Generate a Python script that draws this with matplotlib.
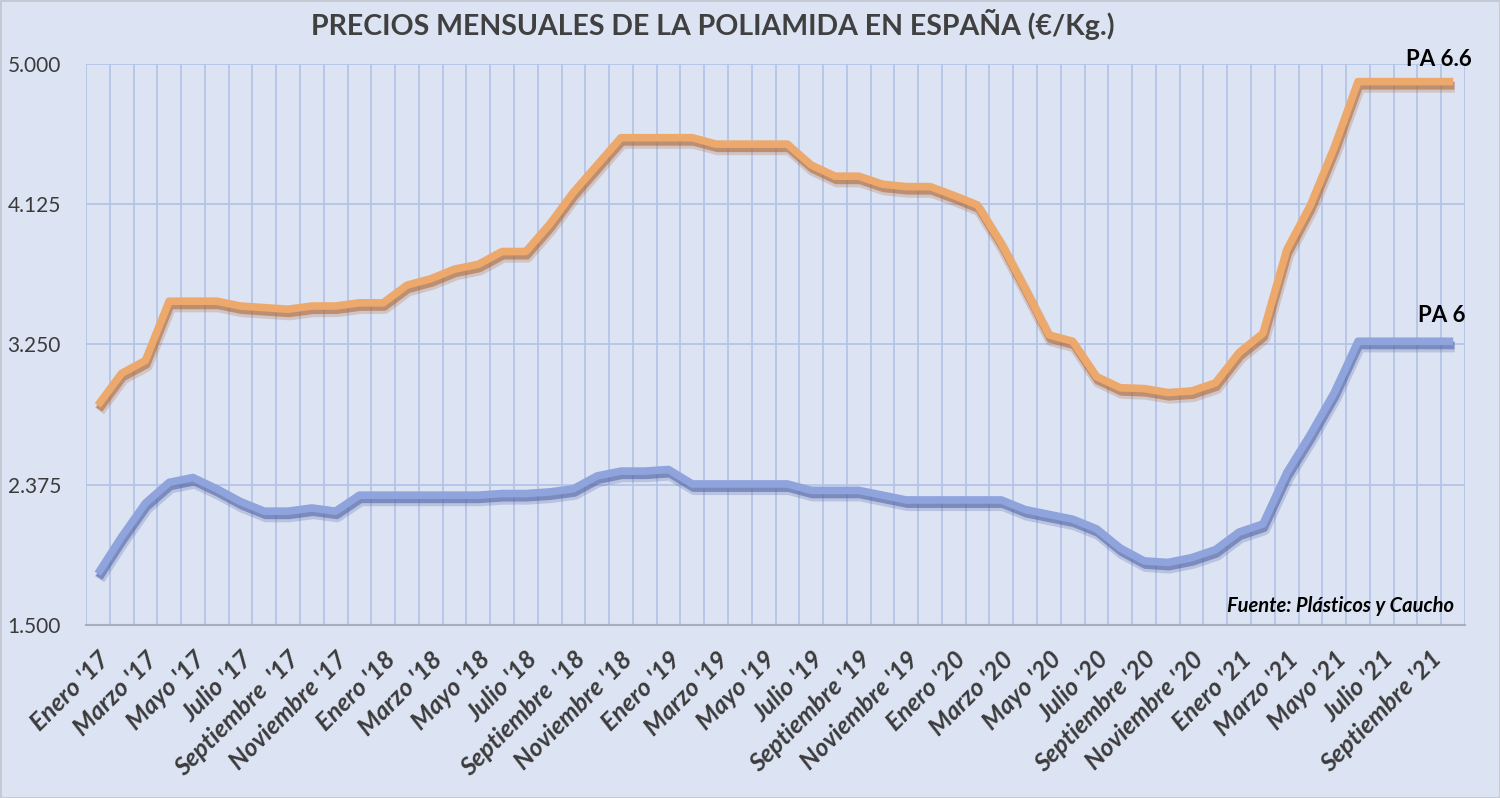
import matplotlib
matplotlib.use("Agg")
import matplotlib.pyplot as plt
import matplotlib.patheffects as pe
from matplotlib.transforms import ScaledTranslation

# precios mensuales Enero '17 .. Octubre '21 (58 meses)
pa66 = [2.87, 3.07, 3.15, 3.52, 3.52, 3.52, 3.49, 3.48, 3.47, 3.49,
        3.49, 3.51, 3.51, 3.62, 3.66, 3.72, 3.75, 3.83, 3.83, 4.00,
        4.20, 4.37, 4.54, 4.54, 4.54, 4.54, 4.50, 4.50, 4.50, 4.50,
        4.37, 4.30, 4.30, 4.25, 4.235, 4.235, 4.18, 4.12, 3.88, 3.60,
        3.31, 3.27, 3.05, 2.98, 2.975, 2.95, 2.96, 3.01, 3.20, 3.32,
        3.84, 4.12, 4.48, 4.89, 4.89, 4.89, 4.89, 4.89]
pa6 = [1.82, 2.05, 2.26, 2.39, 2.42, 2.35, 2.27, 2.21, 2.21, 2.23,
       2.21, 2.31, 2.31, 2.31, 2.31, 2.31, 2.31, 2.32, 2.32, 2.33,
       2.35, 2.43, 2.46, 2.46, 2.47, 2.38, 2.38, 2.38, 2.38, 2.38,
       2.34, 2.34, 2.34, 2.31, 2.28, 2.28, 2.28, 2.28, 2.28, 2.22,
       2.19, 2.16, 2.10, 1.98, 1.90, 1.89, 1.92, 1.97, 2.08, 2.13,
       2.45, 2.69, 2.95, 3.27, 3.27, 3.27, 3.27, 3.27]

tick_labels = ["Enero '17", "Marzo '17", "Mayo '17", "Julio '17", "Septiembre  '17", "Noviembre '17",
               "Enero '18", "Marzo '18", "Mayo '18", "Julio '18", "Septiembre  '18", "Noviembre '18",
               "Enero '19", "Marzo '19", "Mayo '19", "Julio '19", "Septiembre '19", "Noviembre '19",
               "Enero '20", "Marzo '20", "Mayo '20", "Julio '20", "Septiembre '20", "Noviembre '20",
               "Enero '21", "Marzo '21", "Mayo '21", "Julio '21", "Septiembre '21"]
y_ticks = [1.5, 2.375, 3.25, 4.125, 5.0]
y_tick_labels = ["1.500", "2.375", "3.250", "4.125", "5.000"]

bg = "#dce3f3"
grid_c = "#b5c4e6"
txt = "#3b3b3b"
plt.rcParams['font.family'] = ['Lato', 'DejaVu Sans']

fig = plt.figure(figsize=(15, 7.98), dpi=100, facecolor=bg)
ax = fig.add_axes([0.0573, 0.2168, 0.9194, 0.703])
ax.set_facecolor(bg)

n = len(pa66)
x = list(range(n))

# rejilla: una linea vertical por limite de mes
for k in range(n + 1):
    ax.axvline(k - 0.5, color=grid_c, lw=1.3, zorder=1)
for v in y_ticks[1:]:
    ax.axhline(v, color=grid_c, lw=1.3, zorder=1)


def sombra(col):
    return [pe.SimpleLineShadow(offset=(1.2, -4.0), shadow_color=col, alpha=0.25, linewidth=8),
            pe.SimpleLineShadow(offset=(0.9, -3.0), shadow_color=col, alpha=0.6),
            pe.Normal()]


ax.plot(x, pa66, color="#eda86c", lw=5.5, solid_capstyle="butt", zorder=3,
        path_effects=sombra("#b06a3c"))
ax.plot(x, pa6, color="#8fa3dc", lw=5.5, solid_capstyle="butt", zorder=3,
        path_effects=sombra("#5467a8"))

ax.set_xlim(-0.5, n - 0.5)
ax.set_ylim(1.5, 5.0)
ax.set_yticks(y_ticks)
ax.set_yticklabels(y_tick_labels, fontsize=15, color=txt)
ax.set_xticks(range(0, n, 2))
ax.set_xticklabels(tick_labels, rotation=45, ha="right", va="top", rotation_mode="anchor",
                   fontsize=18, fontweight="bold", fontstyle="italic", color=txt)
for lab in ax.get_xticklabels():
    lab.set_transform(lab.get_transform() + ScaledTranslation(0.05, 0, fig.dpi_scale_trans))
ax.tick_params(axis="both", length=0)
ax.tick_params(axis="y", pad=18)
ax.tick_params(axis="x", pad=16)
for s in ["top", "right", "left"]:
    ax.spines[s].set_visible(False)
ax.spines["bottom"].set_color("#a9aebb")
ax.spines["bottom"].set_linewidth(1.5)

fig.text(0.475, 0.969, "PRECIOS MENSUALES DE LA POLIAMIDA EN ESPAÑA (€/Kg.)",
         ha="center", va="center", fontsize=20.5, fontweight="bold", color="#404040")
ax.text(1.005, 4.985, "PA 6.6", transform=ax.get_yaxis_transform(), ha="right", va="baseline",
        fontsize=16, fontweight="bold", color="black")
ax.text(1.0, 3.39, "PA 6", transform=ax.get_yaxis_transform(), ha="right", va="baseline",
        fontsize=16, fontweight="bold", color="black")
ax.text(0.992, 1.62, "Fuente: Plásticos y Caucho", transform=ax.get_yaxis_transform(),
        ha="right", va="center", fontsize=14.5, fontweight="bold", fontstyle="italic", color="black")

fig.patches.append(plt.Rectangle((0, 0), 1, 1, transform=fig.transFigure, fill=False,
                                 edgecolor="#c4c8d2", lw=2))

fig.savefig("out.png", dpi=100, facecolor=bg)
